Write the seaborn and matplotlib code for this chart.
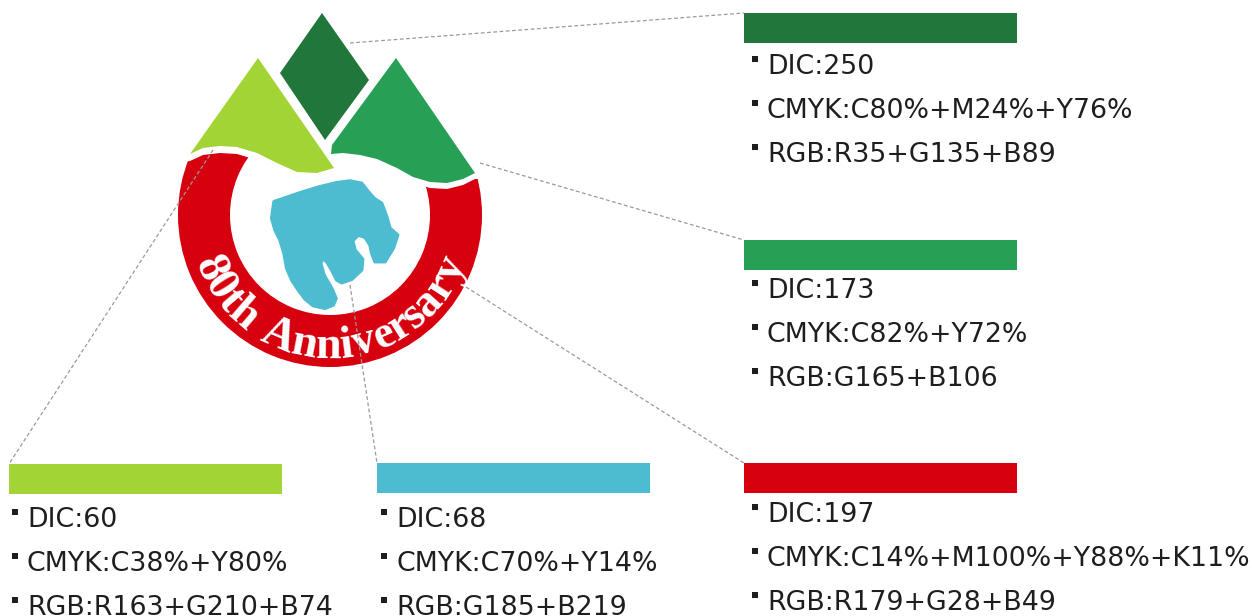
import numpy as np
import matplotlib
matplotlib.use("Agg")
import matplotlib.pyplot as plt
from matplotlib.patches import Polygon, Wedge
from matplotlib.textpath import TextPath
from matplotlib.font_manager import FontProperties
import seaborn as sns

# --- datos de los colores del logo ---
nombres = ["verde_oscuro", "verde", "rojo", "lima", "cian"]
colores = ["#21763b", "#27a055", "#d7000f", "#a3d435", "#4dbbd0"]
dic = ["250", "173", "197", "60", "68"]
cmyk = ["C80%+M24%+Y76%", "C82%+Y72%", "C14%+M100%+Y88%+K11%", "C38%+Y80%", "C70%+Y14%"]
rgb = ["R35+G135+B89", "G165+B106", "R179+G28+B49", "R163+G210+B74", "G185+B219"]
lema = "80th Anniversary"

# --- disposicion (pixeles) ---
barra_x = [744, 744, 744, 9, 377]
barra_y = [13, 240, 463, 464, 463]
barra_w = 273
barra_h = 30
texto_x = [767, 767, 767, 27, 396]
base_y = [74, 298, 522, 527, 527]
paso = 44
conector_desde = [(350, 43), (480, 163), (466, 287), (213, 150), (350, 285)]

sns.set_theme(style="white")
plt.rcParams["font.family"] = ["DejaVu Sans"]

fig = plt.figure(figsize=(12.52, 6.16), dpi=100)
ax = fig.add_axes([0, 0, 1, 1])
ax.set_xlim(0, 1252)
ax.set_ylim(616, 0)
ax.axis("off")

# --- logo ---
cx, cy = 330, 215
anillo = Wedge((cx, cy), 152, 0, 360, width=52, facecolor=colores[2], edgecolor="none", zorder=1)
ax.add_patch(anillo)

lima_base = [(334, 168), (317, 173), (297, 172), (277, 163), (257, 153), (237, 147),
             (220, 146), (203, 148), (190, 154)]
verde_base = [(331, 154), (343, 153), (360, 155), (377, 159), (397, 168), (413, 177),
              (430, 182), (447, 183), (463, 179), (475, 173)]

# tapa blanca sobre la parte superior del anillo
tapa = [(170, 0), (170, 163)] + [(x, y + 7) for x, y in lima_base[::-1]] \
    + [(x, y + 6) for x, y in verde_base] + [(500, 179), (500, 0)]
ax.add_patch(Polygon(tapa, closed=True, facecolor="white", edgecolor="none", zorder=2))

lima = [(258, 58)] + lima_base
ax.add_patch(Polygon(lima, closed=True, facecolor=colores[3], edgecolor="none", zorder=3))
verde = [(396, 58), (475, 173)] + verde_base[::-1] + [(332, 145)]
ax.add_patch(Polygon(verde, closed=True, facecolor=colores[1], edgecolor="none", zorder=3))
rombo = [(322, 13), (369, 80), (325, 140), (280, 73)]
ax.add_patch(Polygon(rombo, closed=True, facecolor=colores[0], edgecolor="none", zorder=3))

lago = [(271.7, 218.3), (274, 201.7), (286.7, 197.3), (303.3, 191.7), (320, 186.7),
        (336.7, 182.7), (350, 181), (361.7, 183.3), (368.3, 191.7), (374, 198.3),
        (381.7, 203.3), (386.7, 216.7), (390, 228.3), (397.7, 235), (393.3, 248.3),
        (385, 261.7), (375, 261.7), (371.7, 253.3), (370, 245), (365, 237.3),
        (358.3, 235), (352.7, 240.7), (355, 250), (362.7, 259.3), (361.7, 270),
        (351.7, 279.3), (341.7, 282.7), (336.7, 280), (331.7, 270), (326.7, 261.7),
        (322.7, 258.3), (320.7, 263.3), (324, 275), (331.7, 288.3), (336, 298.3),
        (333.3, 305), (325, 308.3), (313.3, 305.7), (305, 299), (298.3, 290),
        (291.7, 280), (286.7, 268.3), (284, 253.3), (280, 240), (275, 230)]
ax.add_patch(Polygon(lago, closed=True, facecolor=colores[4], edgecolor=colores[4],
                     linewidth=2.5, joinstyle="round", zorder=3))

# texto curvo "80th Anniversary"
fp = FontProperties(family="Liberation Serif", weight="bold", size=33)
anchos = []
for ch in lema:
    if ch == " ":
        anchos.append(10.0)
    else:
        anchos.append(TextPath((0, 0), ch, prop=fp).get_extents().width + 2)
anchos = np.array(anchos)
centros = np.cumsum(anchos) - anchos / 2
centros = (centros - centros[0]) / (centros[-1] - centros[0])
ang_ini, ang_fin = 204, 336
r_base = 143
for ch, t in zip(lema, centros):
    th = np.deg2rad(ang_ini + t * (ang_fin - ang_ini))
    x = cx + r_base * np.cos(th)
    y = cy - r_base * np.sin(th)
    ax.text(x, y, ch, fontproperties=fp, color="white", ha="center", va="baseline",
            rotation=np.rad2deg(th) - 270, rotation_mode="anchor", zorder=4)

# --- barras de color y textos ---
ax.barh([y + barra_h / 2 for y in barra_y], [barra_w] * 5, left=barra_x, height=barra_h,
        color=colores, edgecolor="none", zorder=2)

for i in range(5):
    lineas = [f"DIC:{dic[i]}", f"CMYK:{cmyk[i]}", f"RGB:{rgb[i]}"]
    for j, linea in enumerate(lineas):
        yb = base_y[i] + j * paso
        ax.text(texto_x[i], yb, linea, fontsize=19.3, color="#1e1e1e",
                ha="left", va="baseline", zorder=4)
        ax.scatter([texto_x[i] - 12], [yb - 15], marker="s", s=16, color="#1e1e1e",
                   linewidths=0, zorder=4)
    x0, y0 = conector_desde[i]
    ax.plot([x0, barra_x[i]], [y0, barra_y[i]], linestyle=(0, (3, 2)), color="#9a9a9a",
            linewidth=0.9, zorder=5)

fig.savefig("out.png", dpi=100, facecolor="white")
